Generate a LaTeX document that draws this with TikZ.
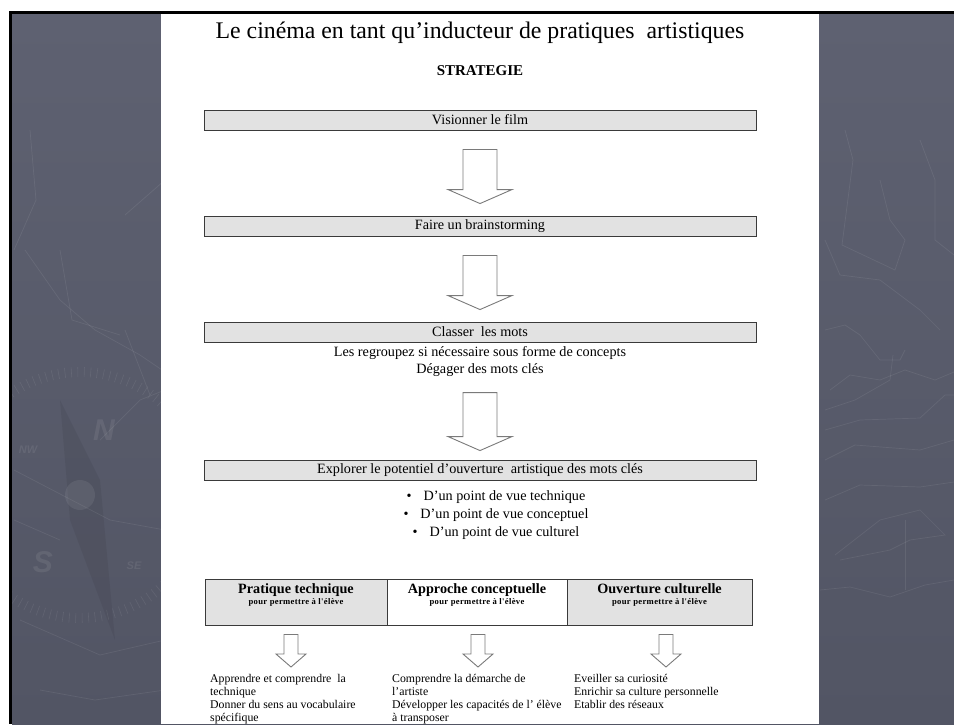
\documentclass[tikz,border=0pt]{standalone}
\usepackage{fontspec}
\setmainfont{Liberation Serif}
\newfontfamily\wmfont{Liberation Sans}
\newfontfamily\tinyserif[LetterSpace=4]{Liberation Serif}
\usetikzlibrary{calc}
\definecolor{bgtop}{HTML}{5E6171}
\definecolor{bgbot}{HTML}{525564}
\definecolor{boxfill}{HTML}{E2E2E2}
\definecolor{boxline}{HTML}{3A3A3A}
\definecolor{arrline}{HTML}{7A7A7A}
\tikzset{
 stepbox/.style={draw=boxline, fill=boxfill, line width=0.9pt, minimum width=552pt, minimum height=20pt, inner sep=0pt, font=\fontsize{14.2}{16}\selectfont},
 plaintext/.style={inner sep=0pt, font=\fontsize{14.2}{17}\selectfont, align=center},
 blockarrow/.style={draw=arrline, fill=white, line width=0.9pt, line join=miter},
 cell/.style={draw=boxline, line width=0.9pt, minimum height=46pt, inner sep=0pt},
 headtitle/.style={inner sep=0pt, anchor=base, font=\fontsize{14.2}{16}\selectfont\bfseries},
 headsub/.style={inner sep=0pt, anchor=base, font=\tinyserif\fontsize{8.6}{9}\selectfont\bfseries},
 coltext/.style={inner sep=0pt, anchor=north west, align=left, font=\fontsize{11.8}{13}\selectfont},
 wmline/.style={draw=white, draw opacity=0.08, line width=0.7pt},
 wmtext/.style={text=white, text opacity=0.08, inner sep=0pt},
}
% #1 from node, #2 to node, #3 top gap, #4 tip gap, #5 half shaft, #6 half head, #7 head length
\newcommand\blockarr[7]{%
 \draw[blockarrow] let \p1=(#1.south), \p2=(#2.north) in
  (\x1-#5pt,\y1-#3pt) -- (\x1+#5pt,\y1-#3pt) -- (\x1+#5pt,\y2+#4pt+#7pt) --
  (\x1+#6pt,\y2+#4pt+#7pt) -- (\x1,\y2+#4pt) -- (\x1-#6pt,\y2+#4pt+#7pt) --
  (\x1-#5pt,\y2+#4pt+#7pt) -- cycle;}
\begin{document}
\begin{tikzpicture}[x=1pt,y=-1pt]
\useasboundingbox (0,0) rectangle (954,724);
% background
\fill[white] (0,0) rectangle (954,724);
\shade[top color=bgtop, bottom color=bgbot] (12,14) rectangle (954,724);
% watermark left (compass)
\begin{scope}
\clip (12,14) rectangle (161,724);
\draw[wmline] (30,130) -- (36,200) -- (14,250);
\draw[wmline] (25,250) -- (60,300) -- (95,330) -- (140,355) -- (165,372);
\draw[wmline] (125,215) -- (165,180);
\draw[wmline] (60,250) -- (72,320) -- (120,335);
\draw[wmline] (125,330) -- (150,395);
\draw[wmline] (14,470) -- (110,520) -- (165,530);
\draw[wmline] (20,620) -- (100,655) -- (165,640);
\draw[wmline] (40,690) -- (95,700) -- (165,690);
\draw[wmline] (100,440) -- (140,400) -- (165,390);
\draw[wmline] (14,520) -- (60,540);
\foreach \a in {20,23,...,160} {\draw[wmline, line width=0.6pt] ($(80,495)+(\a:118)$) -- ($(80,495)+(\a:128)$);}
\foreach \a in {200,203,...,340} {\draw[wmline, line width=0.6pt] ($(80,495)+(\a:118)$) -- ($(80,495)+(\a:128)$);}
\fill[black, opacity=0.06] (60,400) -- (100,480) -- (115,640) -- (70,520) -- cycle;
\fill[white, opacity=0.07] (80,495) circle (15);
\node[wmtext, font=\wmfont\bfseries\itshape\fontsize{30}{30}\selectfont] (wmN) at (104,430) {N};
\node[wmtext, font=\wmfont\bfseries\itshape\fontsize{30}{30}\selectfont] (wmS) at (43,562) {S};
\node[wmtext, font=\wmfont\bfseries\itshape\fontsize{11}{11}\selectfont] (wmSE) at (134,566) {SE};
\node[wmtext, font=\wmfont\bfseries\itshape\fontsize{11}{11}\selectfont] (wmNW) at (28,450) {NW};
\end{scope}
% watermark right
\begin{scope}
\clip (819,14) rectangle (954,724);
\draw[wmline] (845,130) -- (853,160) -- (842,245) -- (895,270) -- (905,240) -- (890,220) -- (880,180);
\draw[wmline] (920,140) -- (935,180) -- (935,240) -- (954,255);
\draw[wmline] (825,240) -- (840,275) -- (880,280) -- (920,310) -- (940,330);
\draw[wmline] (825,330) -- (845,325) -- (860,335) -- (880,360) -- (900,360) -- (905,350);
\draw[wmline] (830,390) -- (850,375) -- (880,380) -- (905,370) -- (935,380) -- (954,372);
\draw[wmline] (825,410) -- (855,400) -- (890,380) -- (893,355);
\draw[wmline] (825,430) -- (860,420) -- (920,418) -- (945,395) -- (954,395);
\draw[wmline] (825,460) -- (855,445) -- (920,450) -- (954,440);
\draw[wmline] (825,500) -- (860,485) -- (920,487) -- (954,482);
\draw[wmline] (835,555) -- (880,520) -- (920,510) -- (945,535) -- (910,540) -- (890,550) -- (840,560);
\draw[wmline] (820,590) -- (850,587) -- (890,597) -- (925,585) -- (954,580);
\draw[wmline] (905,520) -- (905,590);
\end{scope}
% page
\fill[white] (161,14) rectangle (819,724);
% black frame lines
\fill[black] (9,11) rectangle (954,14);
\fill[black] (9,11) rectangle (12,724);
% title
\node[inner sep=0pt, font=\fontsize{23.8}{28}\selectfont] (title) at (480,33) {Le cinéma en tant qu’inducteur de pratiques\ \ artistiques};
\node[inner sep=0pt, font=\fontsize{15}{18}\selectfont\bfseries] (strat) at (480,71) {STRATEGIE};
% steps
\node[stepbox] (b1) at (480,120) {Visionner le film};
\node[stepbox] (b2) at (480,226) {Faire un brainstorming};
\node[stepbox] (b3) at (480,332) {Classer\ \ les mots};
\node[plaintext] (t1) at (480,353) {Les regroupez si nécessaire sous forme de concepts};
\node[plaintext] (t2) at (480,370) {Dégager des mots clés};
\node[stepbox] (b4) at (480,470) {Explorer le potentiel d’ouverture\ \ artistique des mots clés};
\node[plaintext] (l1) at (496,497) {\textbullet\hspace{12pt}D’un point de vue technique};
\node[plaintext] (l2) at (496,515) {\textbullet\hspace{12pt}D’un point de vue conceptuel};
\node[plaintext] (l3) at (496,533) {\textbullet\hspace{12pt}D’un point de vue culturel};
\blockarr{b1}{b2}{19}{12}{17}{32}{14}
\blockarr{b2}{b3}{19}{12}{17}{32}{14}
\blockarr{t2}{b4}{16}{9}{17}{32}{14}
% table
\node[cell, fill=boxfill, minimum width=182pt] (c1) at (296,602) {};
\node[cell, fill=white, minimum width=180pt] (c2) at (477,602) {};
\node[cell, fill=boxfill, minimum width=185pt] (c3) at (659.5,602) {};
\node[headtitle] (h1) at ($(c1.north)+(0,15)$) {Pratique technique};
\node[headsub] (s1) at ($(c1.north)+(0,26)$) {pour permettre à l'élève};
\node[headtitle] (h2) at ($(c2.north)+(0,15)$) {Approche conceptuelle};
\node[headsub] (s2) at ($(c2.north)+(0,26)$) {pour permettre à l'élève};
\node[headtitle] (h3) at ($(c3.north)+(0,15)$) {Ouverture culturelle};
\node[headsub] (s3) at ($(c3.north)+(0,26)$) {pour permettre à l'élève};
% column texts
\node[coltext] (k1) at (210,674) {Apprendre et comprendre\ \ la\\technique\\Donner du sens au vocabulaire\\spécifique};
\node[coltext] (k2) at (392,674) {Comprendre la démarche de\\l’artiste\\Développer les capacités de l’ élève\\à transposer};
\node[coltext] (k3) at (574,674) {Eveiller sa curiosité\\Enrichir sa culture personnelle\\Etablir des réseaux};
\path (c1.south -| 291,0) coordinate (a1) (c2.south -| 478,0) coordinate (a2) (c3.south -| 666,0) coordinate (a3);
\path (291,672) coordinate (e1) (478,672) coordinate (e2) (666,672) coordinate (e3);
\blockarr{a1}{e1}{9}{5}{7}{15}{13}
\blockarr{a2}{e2}{9}{5}{7}{15}{13}
\blockarr{a3}{e3}{9}{5}{7}{15}{13}
\end{tikzpicture}
\end{document}
